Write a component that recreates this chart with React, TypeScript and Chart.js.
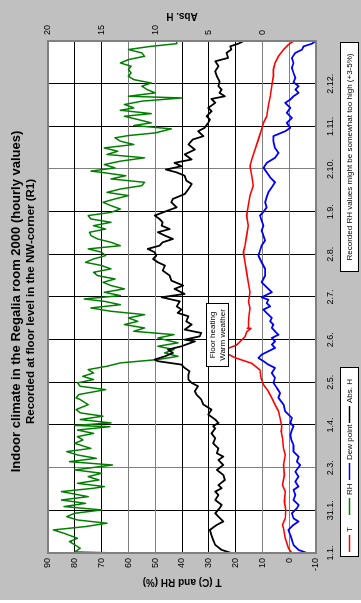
import React, { useEffect, useRef } from 'react';
import { Chart, registerables } from 'chart.js';

Chart.register(...registerables);

const FONT = '"Liberation Sans", Arial, Helvetica, sans-serif';

const chartTitle = 'Indoor climate in the Regalia room 2000 (hourly values)';
const chartSubtitle = 'Recorded at floor level in the NW-corner (R1)';
const leftAxisTitle = 'T (C) and RH (%)';
const rightAxisTitle = 'Abs. H';
const noteText = 'Recorded RH values might be somewhat too high (+3-5%)';
const annotationLines = ['Floor heating', 'Warm weather'];

// Time axis: day of year 2000 (0 = 1.1.), one gridline every 30.5 days
const dateTickDays = [0, 30.5, 61, 91.5, 122, 152.5, 183, 213.5, 244, 274.5, 305, 335.5, 366];
const dateTickLabels = ['1.1.', '31.1.', '2.3.', '1.4.', '2.5.', '2.6.', '2.7.', '2.8.', '1.9.', '2.10.', '1.11.', '2.12.', ''];

const seriesNames = ['T', 'RH', 'Dew point', 'Abs. H'];
const seriesColors = ['#ff0000', '#008000', '#0000ff', '#000000'];

// Temperature (C)
const tDays = [0, 3.4, 10.5, 17.7, 20.1, 24.8, 30.8, 36.7, 43.9, 48.6, 55.8, 62.9, 70.1, 74.8, 82.0, 86.7,
  90.6, 96.6, 101.3, 106.1, 110.9, 115.6, 120.4, 125.2, 130.8, 135.6, 138.0, 139.6, 141.5, 144.0, 146.8,
  148.7, 154.6, 158.2, 160.4, 160.6, 161.0, 165.3, 170.0, 174.9, 179.6, 186.4, 193.5, 200.7, 207.8, 215.0,
  219.7, 226.9, 234.0, 241.2, 248.3, 255.5, 262.6, 269.7, 276.5, 281.3, 288.4, 295.6, 302.7, 307.5, 312.2,
  319.4, 326.5, 333.7, 340.8, 345.6, 350.3, 355.1, 359.9, 363.4, 365.8];
const tValues = [-1, 0.3, 1.5, 2.1, 2.5, 1.5, 1.3, 1.8, 1.5, 2.5, 1.8, 2.1, 1.5, 2.1, 2.5, 3.0,
  2.8, 3.4, 4.0, 5.3, 6.5, 7.8, 9.6, 10.5, 10.9, 14.0, 17.7, 20.2, 22.1, 26.0, 22.1,
  19.6, 16.5, 15.8, 14.3, 15.6, 15.2, 15.2, 15.0, 14.6, 15.2, 14.6, 15.3, 15.9, 16.5, 17.1,
  16.5, 15.9, 15.3, 15.9, 15.3, 14.6, 13.4, 14.0, 14.6, 14.0, 12.8, 11.5, 10.3, 9.6, 8.4,
  7.8, 7.1, 6.5, 5.9, 5.9, 5.3, 4.0, 2.1, 0.3, -1.5];

// Relative humidity (%)
const rhDays = [0, 0.8, 3.4, 5.8, 8.2, 10.5, 14.1, 16.5, 18.9, 21.3, 23.6, 26.0, 28.4, 30.8, 33.2, 35.5,
  37.9, 40.3, 43.9, 46.3, 47.5, 49.8, 52.2, 54.6, 57.0, 59.4, 62.9, 65.3, 67.7, 70.1, 72.5, 74.8, 78.4,
  80.8, 83.2, 85.5, 87.9, 90.3, 91.2, 93.0, 95.4, 97.8, 100.2, 102.5, 106.1, 109.7, 110.9, 113.3, 116.8,
  119.2, 121.6, 124.0, 126.3, 128.7, 131.1, 133.5, 135.9, 138.3, 140.6, 143.0, 145.4, 147.8, 150.2, 153.7,
  156.1, 158.5, 160.9, 163.3, 165.6, 168.0, 170.4, 172.8, 175.2, 177.5, 179.9, 181.6, 184.0, 186.4, 188.8,
  191.2, 193.5, 195.9, 198.3, 200.7, 203.1, 205.5, 207.8, 210.2, 212.6, 215.0, 217.4, 219.7, 222.1, 224.5,
  226.9, 229.3, 231.6, 234.0, 236.4, 238.8, 241.2, 243.5, 245.9, 248.3, 250.7, 253.1, 255.5, 257.8, 260.2,
  262.6, 265.0, 267.4, 269.7, 272.1, 273.0, 275.3, 277.7, 280.1, 282.5, 284.9, 287.2, 289.6, 292.0, 294.4,
  296.8, 298.4, 300.3, 303.2, 305.6, 307.5, 309.9, 312.2, 314.1, 316.5, 318.2, 320.6, 323.0, 325.3, 326.5,
  328.9, 331.3, 333.7, 336.0, 338.4, 340.8, 343.2, 345.6, 348.0, 350.3, 352.7, 355.1, 357.5, 359.9, 362.2,
  364.1, 365.8];
const rhValues = [64, 80, 78, 80, 82, 79, 84, 88, 76, 68, 79, 83, 80, 70, 84, 76,
  85, 75, 85, 73, 69, 79, 71, 75, 70, 80, 66, 82, 72, 79, 83, 74, 80,
  77, 79, 73, 79, 67, 80, 66.5, 78, 69.5, 78, 79.5, 75, 78, 79.5, 78.5, 68.5,
  78, 79, 73, 77, 73, 75, 68, 63, 49, 41.5, 46.5, 43, 49, 41.5, 49,
  43, 58, 54, 61.5, 56.5, 60, 54, 66.5, 74, 63, 69, 76.5, 63, 69, 61.5,
  66.5, 69.5, 65, 71.5, 73, 66.5, 70, 76, 73, 68.5, 70, 75, 63, 66.5, 71.5,
  74, 74.5, 68.5, 73, 66.5, 74, 75, 66.5, 63, 66.5, 69.5, 65, 60, 68, 63,
  55, 54, 66.5, 61, 70, 74, 65, 69, 63, 54, 68, 64, 69, 58, 63,
  65, 60, 50, 44, 58, 51.5, 56.5, 61.5, 51.5, 63, 58, 61.5, 55, 40, 60,
  50, 53, 55, 51.5, 58, 60, 59, 60, 59, 63, 60, 54, 55, 60, 51.5,
  42, 42];

// Dew point (C)
const dewDays = [0, 2.2, 5.8, 9.4, 12.9, 16.5, 20.1, 22.5, 24.8, 28.4, 32.0, 34.4, 37.9, 41.5, 45.1, 47.5,
  51.0, 54.6, 58.2, 62.9, 65.3, 68.9, 72.5, 77.2, 80.8, 84.4, 87.9, 90.6, 93.0, 96.6, 101.3, 106.1, 110.9,
  114.4, 118.0, 121.6, 125.2, 128.7, 132.3, 134.7, 137.1, 139.4, 141.8, 144.2, 146.6, 149.0, 151.3, 153.7,
  156.1, 158.5, 160.9, 163.3, 165.6, 168.0, 171.6, 174.0, 176.3, 178.7, 181.1, 182.8, 186.4, 190.0, 193.5,
  198.3, 203.1, 207.8, 212.6, 216.2, 219.7, 223.3, 226.9, 230.5, 234.0, 237.6, 241.2, 244.0, 247.1, 250.7,
  254.3, 257.8, 261.4, 265.0, 268.5, 272.1, 275.3, 278.9, 282.5, 286.0, 289.6, 294.4, 298.0, 301.5, 303.9,
  307.5, 311.0, 314.6, 318.2, 321.8, 324.1, 326.5, 328.9, 331.3, 333.7, 336.5, 339.6, 343.2, 346.8, 350.3,
  353.9, 357.5, 359.9, 362.2, 364.1, 365.8];
const dewValues = [-6.6, -3.5, -1.6, -1, -0.4, 0.3, -1.6, -3.5, -1.6, -1, -2.9, -3.5, -1.6, -2.3, -1.6, -3.5,
  -2.3, -3.5, -2.3, -4.1, -2.9, -3.5, -1.6, -1.6, -0.8, -0.4, -1, -1.6, -0.4, -1, 1.5, 2.1, 4,
  3.4, 4.6, 5.9, 5.3, 6.5, 5.3, 7.8, 9.6, 11.5, 10.3, 7.8, 5.3, 6.5, 5.3, 6.5,
  4, 5.3, 6.5, 5.9, 7.1, 6.5, 8.4, 9.6, 7.1, 8.4, 7.8, 10.3, 6.5, 8.4, 10.3,
  9, 9, 10.3, 11.5, 10.9, 10.3, 9, 9.6, 10.3, 9.6, 10.3, 10.9, 9.6, 8.4, 9,
  8.4, 7.8, 6.5, 5.3, 7.1, 8.4, 9.6, 8.4, 5.3, 4, 5.3, 5.9, 5.9, 1.5, -0.4,
  0.9, -1, 0.9, -0.4, 1.5, -0.4, -1.6, -3.5, -2.3, -3.5, -1.6, -2.3, -1.6, -1, -1.6,
  -1, -2.3, -4.8, -5.4, -8.5, -9.7];

// Absolute humidity (g/m3), right-hand axis
const absDays = [0, 2.2, 5.8, 9.4, 12.9, 16.5, 20.1, 22.5, 26.0, 28.4, 32.0, 34.4, 37.9, 41.5, 43.9, 46.3,
  48.6, 52.2, 55.8, 59.4, 62.9, 66.5, 68.9, 71.3, 74.8, 78.4, 82.0, 85.5, 89.1, 90.6, 93.0, 95.4, 99.0,
  102.5, 106.1, 109.7, 113.3, 115.6, 119.2, 121.6, 124.0, 127.5, 129.9, 132.3, 134.7, 137.1, 138.3, 140.6,
  143.0, 145.4, 147.8, 151.3, 152.5, 154.9, 157.3, 159.7, 163.3, 165.6, 169.2, 171.6, 174.0, 176.3, 179.9,
  182.8, 185.2, 188.8, 191.2, 194.7, 198.3, 201.9, 205.5, 207.8, 210.2, 212.6, 215.0, 217.4, 219.7, 222.1,
  224.5, 226.9, 229.3, 231.6, 234.0, 236.4, 238.8, 241.2, 244.0, 247.1, 250.7, 253.1, 256.6, 260.2, 263.8,
  266.2, 269.7, 272.1, 274.1, 276.5, 278.9, 281.3, 284.9, 288.4, 292.0, 295.6, 298.0, 301.5, 303.9, 307.5,
  309.9, 312.2, 315.8, 318.2, 321.8, 324.6, 326.5, 328.9, 331.3, 333.7, 337.2, 340.8, 344.4, 348.0, 351.5,
  353.9, 357.5, 359.9, 362.2, 364.1, 365.8];
const absValues = [2.9, 3.8, 4.4, 4.6, 4.75, 4.9, 4.25, 3.65, 4.1, 4.4, 4.0, 3.8, 4.4, 4.1, 4.4, 3.8,
  4.1, 3.5, 3.65, 4.25, 3.65, 4.1, 3.65, 4.25, 4.1, 4.6, 4.4, 4.75, 4.4, 4.6, 4.1, 4.4, 5.05,
  4.75, 5.5, 5.7, 6.15, 6.3, 6.0, 6.6, 6.9, 6.9, 6.8, 7.25, 7.55, 9.75, 10.05, 9.1,
  8.35, 8.8, 7.55, 6.3, 7.25, 5.85, 5.7, 7.25, 6.6, 7.1, 6.9, 7.9, 7.55, 8.0, 7.7,
  9.4, 7.25, 8.2, 7.4, 8.5, 8.65, 9.3, 9.1, 9.75, 10.2, 9.9, 10.05, 10.7, 9.6, 9.3,
  8.35, 9.1, 9.75, 8.65, 9.4, 9.3, 9.6, 10.05, 9.1, 8.0, 8.5, 8.35, 7.25, 6.9, 6.6,
  7.1, 7.25, 8.0, 9.0, 7.55, 8.2, 6.6, 7.25, 6.3, 6.9, 6.5, 5.5, 6.0, 5.4, 5.05,
  4.9, 5.2, 4.75, 5.05, 4.4, 4.75, 3.5, 4.0, 3.8, 4.1, 4.0, 4.25, 4.4, 4.1, 4.4,
  3.2, 3.35, 2.9, 3.0, 2.25, 1.8];

const toPoints = (days: number[], values: number[]) => days.map((d, i) => ({ x: d, y: values[i] }));

const backdropPlugin = {
  id: 'backdrop',
  beforeDraw(chart: any) {
    const { ctx, width, height, chartArea: a } = chart;
    ctx.save();
    ctx.fillStyle = '#ffffff';
    ctx.fillRect(0, 0, width, height);
    ctx.fillStyle = '#c0c0c0';
    ctx.fillRect(3, 0, width - 3, height);
    ctx.fillStyle = '#ffffff';
    ctx.fillRect(a.left, a.top, a.right - a.left, a.bottom - a.top);
    ctx.restore();
  },
};

const overlayPlugin = {
  id: 'overlay',
  afterDraw(chart: any) {
    const { ctx, width, chartArea: a } = chart;
    ctx.save();

    // plot area frame
    ctx.strokeStyle = '#808080';
    ctx.lineWidth = 2;
    ctx.strokeRect(a.left, a.top, a.right - a.left, a.bottom - a.top);

    // text box over the early-summer peak
    ctx.fillStyle = '#ffffff';
    ctx.fillRect(236.5, 206.5, 63, 22);
    ctx.strokeStyle = '#000000';
    ctx.lineWidth = 1;
    ctx.strokeRect(236.5, 206.5, 63, 22);
    ctx.fillStyle = '#000000';
    ctx.font = `8px ${FONT}`;
    ctx.textAlign = 'center';
    ctx.textBaseline = 'middle';
    ctx.fillText(annotationLines[0], 268, 213);
    ctx.fillText(annotationLines[1], 268, 222.5);

    // titles
    ctx.textBaseline = 'alphabetic';
    ctx.font = `bold 13px ${FONT}`;
    ctx.fillText(chartTitle, width / 2, 19.5);
    ctx.font = `bold 11.5px ${FONT}`;
    ctx.fillText(chartSubtitle, width / 2, 33.5);

    // axis titles, both reading bottom-to-top
    const cy = (a.top + a.bottom) / 2;
    ctx.font = `bold 10px ${FONT}`;
    ctx.textBaseline = 'middle';
    ctx.save();
    ctx.translate(21, cy);
    ctx.rotate(-Math.PI / 2);
    ctx.fillText(leftAxisTitle, 0, 0);
    ctx.restore();
    ctx.save();
    ctx.translate(587, cy);
    ctx.rotate(-Math.PI / 2);
    ctx.fillText(rightAxisTitle, 0, 0);
    ctx.restore();

    // legend box
    ctx.fillStyle = '#ffffff';
    ctx.fillRect(46.5, 340.5, 189, 18);
    ctx.strokeStyle = '#000000';
    ctx.strokeRect(46.5, 340.5, 189, 18);
    const slots = [51, 88, 123, 180];
    ctx.font = `8px ${FONT}`;
    ctx.textAlign = 'left';
    ctx.textBaseline = 'middle';
    seriesNames.forEach((name, i) => {
      const x0 = slots[i];
      ctx.strokeStyle = seriesColors[i];
      ctx.lineWidth = 1.5;
      ctx.beginPath();
      ctx.moveTo(x0, 349.5);
      ctx.lineTo(x0 + 17, 349.5);
      ctx.stroke();
      ctx.fillStyle = '#000000';
      ctx.fillText(name, x0 + 20, 350);
    });

    // note box
    ctx.fillStyle = '#ffffff';
    ctx.fillRect(331.5, 340.5, 229, 18);
    ctx.strokeStyle = '#000000';
    ctx.lineWidth = 1;
    ctx.strokeRect(331.5, 340.5, 229, 18);
    ctx.fillStyle = '#000000';
    ctx.textAlign = 'center';
    ctx.fillText(noteText, 446, 350);

    ctx.restore();
  },
};

const tickFont = { family: FONT, size: 9 };

export default function App() {
  const canvasRef = useRef<HTMLCanvasElement>(null);

  useEffect(() => {
    const canvas = canvasRef.current;
    if (!canvas) return;
    const chart = new Chart(canvas, {
      type: 'line',
      data: {
        datasets: [
          { label: seriesNames[0], data: toPoints(tDays, tValues), borderColor: seriesColors[0], borderWidth: 1.6, yAxisID: 'y', order: 4 },
          { label: seriesNames[1], data: toPoints(rhDays, rhValues), borderColor: seriesColors[1], borderWidth: 1.5, yAxisID: 'y', order: 3 },
          { label: seriesNames[2], data: toPoints(dewDays, dewValues), borderColor: seriesColors[2], borderWidth: 1.8, yAxisID: 'y', order: 2 },
          { label: seriesNames[3], data: toPoints(absDays, absValues), borderColor: seriesColors[3], borderWidth: 1.8, yAxisID: 'y2', order: 1 },
        ],
      },
      options: {
        responsive: false,
        animation: false,
        events: [],
        devicePixelRatio: 1,
        layout: { padding: { top: 48, left: 0, right: 0, bottom: 0 } },
        elements: { point: { radius: 0 }, line: { tension: 0, fill: false, borderJoinStyle: 'round' } },
        plugins: { legend: { display: false }, tooltip: { enabled: false }, title: { display: false } },
        scales: {
          x: {
            type: 'linear',
            min: 0,
            max: 366,
            afterBuildTicks: (s: any) => {
              s.ticks = dateTickDays.map((v) => ({ value: v }));
            },
            afterFit: (s: any) => {
              s.height = 45;
            },
            ticks: {
              autoSkip: false,
              maxRotation: 0,
              minRotation: 0,
              padding: 9,
              color: '#000000',
              font: tickFont,
              callback: (_v: any, i: number) => dateTickLabels[i],
            },
            grid: {
              drawTicks: false,
              lineWidth: 1,
              color: (c: any) => {
                const v = c.tick ? c.tick.value : 0;
                if (v === 0 || v === 366) return 'rgba(0,0,0,0)';
                return v === 61 || v === 274.5 ? '#808080' : '#000000';
              },
            },
            border: { display: false },
          },
          y: {
            type: 'linear',
            position: 'left',
            min: -10,
            max: 90,
            afterFit: (s: any) => {
              s.width = 50;
            },
            ticks: { stepSize: 10, autoSkip: false, padding: 5, color: '#000000', font: tickFont },
            grid: {
              drawTicks: false,
              lineWidth: 1,
              color: (c: any) => {
                const v = c.tick ? c.tick.value : 0;
                if (v === -10 || v === 90) return 'rgba(0,0,0,0)';
                return v === 0 || v === 10 || v === 50 || v === 60 ? '#808080' : '#000000';
              },
            },
            border: { display: false },
          },
          y2: {
            type: 'linear',
            position: 'right',
            min: -5,
            max: 20,
            afterFit: (s: any) => {
              s.width = 41;
            },
            ticks: {
              stepSize: 5,
              autoSkip: false,
              padding: 6,
              color: '#000000',
              font: tickFont,
              callback: (v: any) => (v < 0 ? '' : String(v)),
            },
            grid: { display: false, drawTicks: false },
            border: { display: false },
          },
        },
      },
      plugins: [backdropPlugin, overlayPlugin],
    } as any);
    return () => chart.destroy();
  }, []);

  return (
    <div style={{ position: 'fixed', left: 0, top: 0, width: 361, height: 603, overflow: 'hidden', background: '#ffffff' }}>
      <canvas
        ref={canvasRef}
        width={603}
        height={361}
        style={{
          position: 'absolute',
          left: 0,
          top: 0,
          width: 603,
          height: 361,
          transformOrigin: '0 0',
          transform: 'translate(0px, 603px) rotate(-90deg)',
        }}
      />
    </div>
  );
}
